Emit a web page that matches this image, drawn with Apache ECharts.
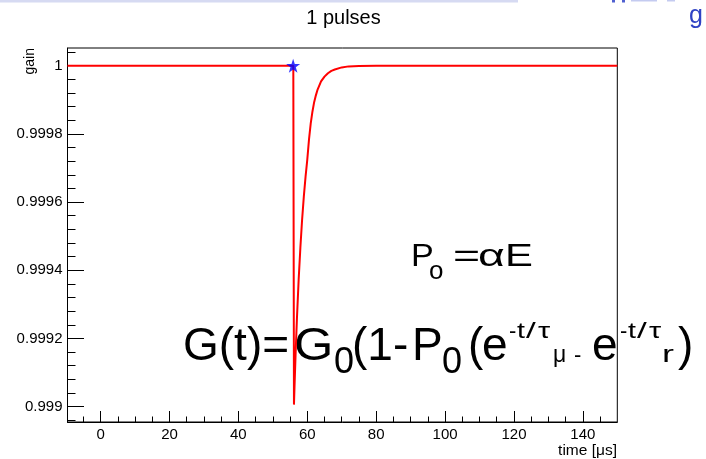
<!DOCTYPE html>
<html>
<head>
<meta charset="utf-8">
<script src="https://cdn.jsdelivr.net/npm/echarts@6/dist/echarts.min.js"></script>
<style>
html,body{margin:0;padding:0;background:#fff;}
#chart{width:706px;height:459px;}
</style>
</head>
<body>
<div id="chart"></div>
<script>
// ---- data ----
var timeValues = [-9.6, 55.95, 56.14, 56.3, 56.6, 57.0, 57.5, 58.0, 58.5, 59.0, 59.5, 60.0, 60.5, 61.0, 61.5, 62.0, 62.5, 63.0, 64.0, 65.0, 66.0, 67.0, 68.0, 70.0, 72.0, 75.0, 80.0, 150.0];
var gainValues = [1, 1, 0.999006, 0.999059, 0.999150, 0.999258, 0.999372, 0.999466, 0.999548, 0.999616, 0.999674, 0.999724, 0.999783, 0.999830, 0.999865, 0.999893, 0.999913, 0.999930, 0.999954, 0.999968, 0.999978, 0.999985, 0.999989, 0.999995, 0.999998, 0.9999991, 1, 1];
var pulseTime = [55.9];
var pulseGain = [1];

var xMajorTicks = [0, 20, 40, 60, 80, 100, 120, 140];
var xMinorTicks = [-5, 5, 10, 15, 25, 30, 35, 45, 50, 55, 65, 70, 75, 85, 90, 95, 105, 110, 115, 125, 130, 135, 145];
var yMajorTicks = [0.999, 0.9992, 0.9994, 0.9996, 0.9998, 1];
var yMinorTicks = [0.99896, 0.99904, 0.99908, 0.99912, 0.99916, 0.99924, 0.99928, 0.99932, 0.99936, 0.99944, 0.99948, 0.99952, 0.99956, 0.99964, 0.99968, 0.99972, 0.99976, 0.99984, 0.99988, 0.99992, 0.99996, 1.00004];

var titleText = '1 pulses';
var xTitle = 'time [\u03bcs]';
var yTitle = 'gain';

var xMin = -9.6, xMax = 150;
var yMin = 0.998955, yMax = 1.0000519;

// ---- build ----
var lineData = timeValues.map(function (t, i) { return [t, gainValues[i]]; });
var starData = pulseTime.map(function (t, i) { return [t, pulseGain[i]]; });

var FONT = '"Liberation Sans", Arial, Helvetica, sans-serif';
function txt(x, baseline, text, size, sx, color) {
  return {
    type: 'text', z: 0,
    x: x, y: baseline - 0.35 * size, scaleX: sx || 1, scaleY: 1,
    style: {
      x: 0, y: 0, text: text,
      font: size + 'px ' + FONT, fill: color || '#000',
      align: 'left', verticalAlign: 'middle'
    }
  };
}

var graphics = [
  // slide remnants at top
  { type: 'rect', z: 0, shape: { x: 0, y: 0, width: 518, height: 2.5 }, style: { fill: '#d6daf2' } },
  { type: 'rect', z: 0, shape: { x: 612, y: 0, width: 3, height: 2.5 }, style: { fill: '#5060d0' } },
  { type: 'rect', z: 0, shape: { x: 622, y: 0, width: 3, height: 2.5 }, style: { fill: '#5060d0' } },
  { type: 'rect', z: 0, shape: { x: 631, y: 0, width: 26, height: 1.5 }, style: { fill: '#c4cbf0' } },
  { type: 'rect', z: 0, shape: { x: 667, y: 0, width: 8, height: 1.5 }, style: { fill: '#c4cbf0' } },
  txt(689, 25, 'g', 25, 1, '#2f42c4'),
  // title
  { type: 'text', z: 0, style: { x: 343.5, y: 18, text: titleText, font: '20px ' + FONT, fill: '#000', align: 'center', verticalAlign: 'middle' } },
  // axis titles
  { type: 'text', z: 0, x: 30, y: 48, rotation: Math.PI / 2,
    style: { x: 0, y: 0, text: yTitle, font: '14px ' + FONT, fill: '#000', align: 'right', verticalAlign: 'middle' } },
  { type: 'text', z: 0, style: { x: 617, y: 451, text: xTitle, font: '15.5px ' + FONT, fill: '#000', align: 'right', verticalAlign: 'middle' } },
  // P_o = alpha E
  txt(411, 268, 'P', 31, 1.1),
  txt(429, 281, 'o', 26),
  txt(453, 268, '=', 32, 1.45),
  txt(478, 268, '\u03b1', 32, 1.45),
  txt(505, 268, 'E', 31, 1.35),
  // G(t) formula
  txt(183, 363.6, 'G(t)=', 46),
  txt(294, 363.6, 'G', 46, 1.1),
  txt(334, 375.6, '0', 36),
  txt(352, 363.6, '(1-', 46),
  txt(412, 363.6, 'P', 46),
  txt(442, 375.6, '0', 36),
  txt(468, 363.6, '(', 46),
  txt(482, 363.6, 'e', 46),
  txt(509, 339.7, '-', 22),
  txt(517, 339.7, 't', 22, 1.3),
  txt(526, 339.7, '/', 22, 1.6),
  txt(538, 339.7, '\u03c4', 22, 1.4),
  txt(553, 363.6, '\u03bc', 23),
  txt(574, 363.6, '-', 22),
  txt(592, 363.6, 'e', 46),
  txt(620, 339.7, '-', 22),
  txt(628, 339.7, 't', 22, 1.3),
  txt(637, 339.7, '/', 22, 1.6),
  txt(649, 339.7, '\u03c4', 22, 1.4),
  txt(662, 363.6, 'r', 24, 1.5),
  txt(678, 363.6, ')', 46)
];

var chart = echarts.init(document.getElementById('chart'), null, { renderer: 'canvas' });
var labelStyle = { color: '#000', fontSize: 15, fontFamily: FONT };
chart.setOption({
  animation: false,
  backgroundColor: '#fff',
  grid: { left: 67.5, right: 88.7, top: 48, bottom: 37, show: true, borderColor: '#000', borderWidth: 1, z: 2, outerBoundsMode: 'none' },
  xAxis: [
    { type: 'value', min: xMin, max: xMax, position: 'bottom',
      axisLine: { show: true, onZero: false, lineStyle: { color: '#000', width: 1 } },
      axisTick: { show: true, inside: true, length: 11, customValues: xMajorTicks, lineStyle: { color: '#000' } },
      axisLabel: Object.assign({ show: true, margin: 5, customValues: xMajorTicks }, labelStyle),
      splitLine: { show: false }, z: 4 },
    { type: 'value', min: xMin, max: xMax, position: 'bottom',
      axisLine: { show: false, onZero: false },
      axisTick: { show: true, inside: true, length: 5.5, customValues: xMinorTicks, lineStyle: { color: '#000' } },
      axisLabel: { show: false, customValues: xMinorTicks },
      splitLine: { show: false }, z: 4 }
  ],
  yAxis: [
    { type: 'value', min: yMin, max: yMax, position: 'left',
      axisLine: { show: true, onZero: false, lineStyle: { color: '#000', width: 1 } },
      axisTick: { show: true, inside: true, length: 16.5, customValues: yMajorTicks, lineStyle: { color: '#000' } },
      axisLabel: Object.assign({ show: true, margin: 5, customValues: yMajorTicks,
        formatter: function (v) { return String(parseFloat(Number(v).toFixed(4))); } }, labelStyle),
      splitLine: { show: false }, z: 4 },
    { type: 'value', min: yMin, max: yMax, position: 'left',
      axisLine: { show: false, onZero: false },
      axisTick: { show: true, inside: true, length: 8, customValues: yMinorTicks, lineStyle: { color: '#000' } },
      axisLabel: { show: false, customValues: yMinorTicks },
      splitLine: { show: false }, z: 4 }
  ],
  series: [
    { type: 'line', data: lineData, xAxisIndex: 0, yAxisIndex: 0, showSymbol: false, symbol: 'none',
      smooth: false, clip: true, z: 5,
      lineStyle: { color: '#ff0000', width: 2 } },
    { type: 'scatter', data: starData, xAxisIndex: 0, yAxisIndex: 0, z: 6,
      symbol: 'path://M50,0 L61.2,34.5 L97.6,34.5 L68.2,55.9 L79.4,90.5 L50,69.1 L20.6,90.5 L31.8,55.9 L2.4,34.5 L38.8,34.5 Z',
      symbolSize: 14, itemStyle: { color: '#0000ff' } }
  ],
  graphic: graphics
});
</script>
</body>
</html>
